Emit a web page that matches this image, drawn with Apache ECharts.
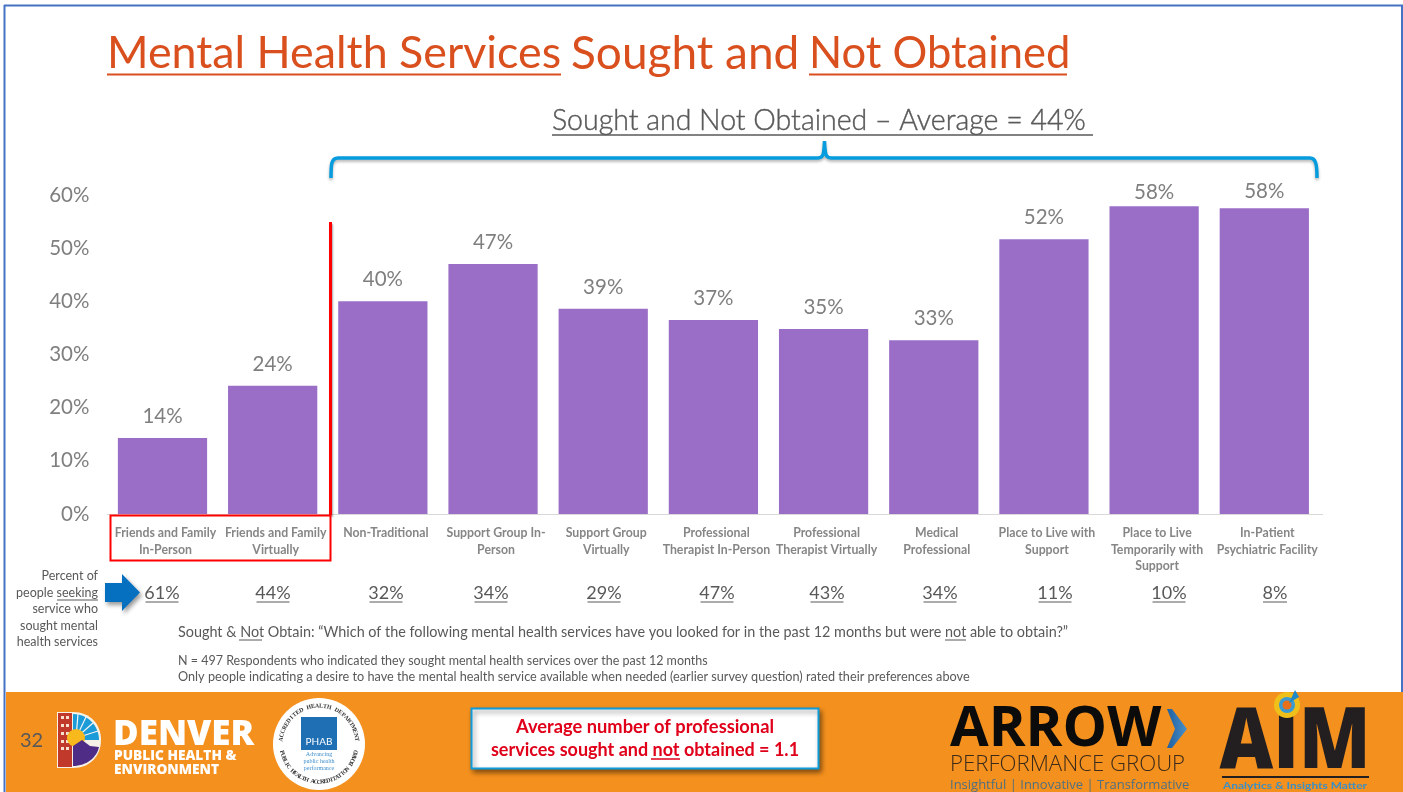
<!DOCTYPE html>
<html><head><meta charset="utf-8">
<style>html,body{margin:0;padding:0;background:#fff}#c{width:1403px;height:792px}</style>
<script src="https://cdn.jsdelivr.net/npm/echarts@6/dist/echarts.min.js"></script>
</head><body><div id="c"></div>
<script>
const categories = ['Friends and Family\nIn-Person','Friends and Family\nVirtually','Non-Traditional','Support Group In-\nPerson','Support Group\nVirtually','Professional\nTherapist In-Person','Professional\nTherapist Virtually','Medical\nProfessional','Place to Live with\nSupport','Place to Live\nTemporarily with\nSupport','In-Patient\nPsychiatric Facility'];
const soughtNotObtained = [14.3,24.1,40,47,38.6,36.5,34.8,32.7,51.7,57.9,57.5];
const seekingLabels = ['61%','44%','32%','34%','29%','47%','43%','34%','11%','10%','8%'];
const seekingX = [162,273,386,491,604,717,827,940,1055,1169,1275];
const yTicks = [0,10,20,30,40,50,60];

const F='Lato, "Open Sans", sans-serif';
const OS='"Open Sans",sans-serif';
const SER='"Liberation Serif",serif';
let pathN=0;
const pth=(d,style,z)=>{const name='p'+(pathN++);echarts.graphic.registerShape(name,echarts.graphic.extendPath(d,{}));return {type:name,silent:true,z:z||20,style};};
const txt=(x,y,s,size,color,o={})=>({type:'text',x,y,scaleX:o.sx||1,silent:true,z:o.z||20,style:{text:s,fontSize:size,fill:color,fontFamily:o.ff||F,fontWeight:o.w||'normal',align:o.a||'left',verticalAlign:'middle',stroke:o.st?color:undefined,lineWidth:o.st||0}});
const ln=(x1,y1,x2,y2,color,w,o={})=>({type:'line',silent:true,z:o.z||20,shape:{x1,y1,x2,y2},style:{stroke:color,lineWidth:w,shadowBlur:o.sb||0,shadowColor:'rgba(0,0,0,.35)',shadowOffsetY:o.sb?2:0,shadowOffsetX:o.sb?1:0}});
const rect=(x,y,w,h,fill,o={})=>({type:'rect',silent:true,z:o.z||20,shape:{x,y,width:w,height:h,r:o.r||0},style:{fill,stroke:o.stroke,lineWidth:o.lw||0,shadowBlur:o.sb||0,shadowColor:'rgba(0,0,0,.45)',shadowOffsetY:o.sb?3:0,shadowOffsetX:o.sb?2:0}});
const poly=(pts,fill,o={})=>({type:'polygon',silent:true,z:o.z||20,shape:{points:pts},style:{fill,shadowBlur:o.sb||0,shadowColor:'rgba(0,0,0,.4)',shadowOffsetY:o.sb?3:0,shadowOffsetX:o.sb?2:0}});
const circ=(cx,cy,r,fill,o={})=>({type:'circle',silent:true,z:o.z||20,shape:{cx,cy,r},style:{fill,stroke:o.stroke,lineWidth:o.lw||0}});

const G=[];
// slide frame and footer
G.push(ln(4.5,5,4.5,792,'#4472C4',2),ln(4,5.5,1403,5.5,'#4472C4',2),ln(1402,5,1402,692,'#4472C4',2));
G.push(rect(6,692,1397,100,'#F4901E'));
// title
G.push(txt(107,54,'Mental Health Services',44.8,'#D9501E'));
G.push(txt(571,54,'Sought and',46,'#D9501E'));
G.push(txt(809,54,'Not Obtained',43.5,'#D9501E'));
G.push(ln(107,74.5,561,74.5,'#D9501E',2),ln(809,74.5,1067,74.5,'#D9501E',2));
G.push(txt(552,121,'Sought and Not Obtained – Average = 44% ',28.5,'#595959',{w:300,st:0.4}));
G.push(ln(552,135,1093,135,'#595959',1.5));
// bracket
G.push(pth('M331 178 C331 165 331 158 338 158 L818 158 C823 158 824 155 824.5 141 C825 155 826 158 831 158 L1310 158 C1316 158 1317 165 1317 178',{fill:'none',stroke:'#069CDE',lineWidth:3.5,shadowBlur:3,shadowColor:'rgba(0,0,0,.3)',shadowOffsetY:2}));
// red markers
G.push(ln(330.5,222,330.5,515,'#FF0000',3,{sb:2}));
G.push(rect(110.5,515.5,220,45,'rgba(0,0,0,0)',{stroke:'#FF0000',lw:2}));
G.push(ln(1319,514.5,1323,514.5,'#D9D9D9',1));
// seeking row
G.push(poly([[105,583],[122,583],[122,574],[140,592.5],[122,611],[122,602],[105,602]],'#0670C0',{sb:4}));
['Percent of','people seeking','service who','sought mental','health services'].forEach((s,i)=>G.push(txt(98,576+i*16.6,s,12.5,'#595959',{a:'right'})));
G.push(ln(57,600,98,600,'#595959',1));
seekingLabels.forEach((s,i)=>{G.push(txt(seekingX[i],593,s,18,'#595959',{a:'center'}));const w=s.length>2?33:24;G.push(ln(seekingX[i]-w/2,602,seekingX[i]+w/2,602,'#595959',1));});
// notes
G.push(txt(178,632,'Sought & Not Obtain: “Which of the following mental health services have you looked for in the past 12 months but were not able to obtain?”',14.4,'#595959'));
G.push(ln(239,640,262,640,'#595959',1),ln(945,640,966,640,'#595959',1));
G.push(txt(178,661,'N = 497 Respondents who indicated they sought mental health services over the past 12 months',12.5,'#595959'));
G.push(txt(178,677,'Only people indicating a desire to have the mental health service available when needed (earlier survey question) rated their preferences above',12.7,'#595959'));
// footer: page no + Denver
G.push(txt(20,741,'32',20,'#595959'));
G.push(pth('M57 712 L57 768 L73 768 C90 768 101 756 101 740 C101 724 90 712 73 712 Z',{fill:'#F7F2E8'}));
G.push(rect(58,713,14,54,'#C0392B'));
[[61,716],[66,716],[61,724],[66,724],[61,732],[66,732],[61,740],[66,740],[61,747],[66,747]].forEach(p=>G.push(rect(p[0],p[1],3,3,'#F8E0D0')));
G.push(pth('M73 714 C88 714 99 726 99 740 L73 740 Z',{fill:'#1B9BD7'}));
[[78,714],[86,717],[93,723],[98,731]].forEach(p=>G.push(ln(76,738,p[0],p[1],'#F4F4F4',1.2)));
G.push(circ(76,738,9,'#F9B81B'));
G.push(pth('M73 746 L82 740 L90 746 L99 747 C97 757 87 766 73 766 Z',{fill:'#4F2D87'},21));
G.push(txt(113,735,'DENVER',35,'#FFFFFF',{w:800,ff:OS}));
G.push(txt(114,756,'PUBLIC HEALTH &',13.7,'#FFFFFF',{w:800,ff:OS}));
G.push(txt(114,770,'ENVIRONMENT',13.7,'#FFFFFF',{w:800,ff:OS}));
// PHAB seal
G.push(circ(319,744,46,'#FFFFFF'));
G.push(rect(301,717,36,33,'#1F6FB5'));
G.push(txt(319,742,'PHAB',10,'#FFFFFF',{a:'center'}));
G.push(txt(319,754,'Advancing',6,'#3F8FCF',{a:'center',ff:SER}));
G.push(txt(319,761,'public health',6,'#3F8FCF',{a:'center',ff:SER}));
G.push(txt(319,768,'performance',6,'#3F8FCF',{a:'center',ff:SER}));
const seal='ACCREDITED HEALTH DEPARTMENT';
[...seal].forEach((c,i)=>{const a=-1.45+i*2.9/(seal.length-1);G.push({type:'text',silent:true,z:21,x:319+38*Math.sin(a),y:744-38*Math.cos(a),rotation:-a,style:{text:c,fontSize:6,fontWeight:'bold',fill:'#333',align:'center',verticalAlign:'middle',fontFamily:SER}});});
const seal2='PUBLIC HEALTH ACCREDITATION BOARD';
[...seal2].forEach((c,i)=>{const a=1.35-i*2.7/(seal2.length-1);G.push({type:'text',silent:true,z:21,x:319-38*Math.sin(a),y:744+38*Math.cos(a),rotation:-a,style:{text:c,fontSize:6,fontWeight:'bold',fill:'#333',align:'center',verticalAlign:'middle',fontFamily:SER}});});
// callout
G.push(rect(471.5,708.5,347,60,'#FFFFFF',{stroke:'#0D9BDC',lw:2,sb:5}));
G.push(txt(645,727,'Average number of professional',18.3,'#E0001A',{w:'bold',a:'center'}));
G.push(txt(645,750,'services sought and not obtained = 1.1',18,'#E0001A',{w:'bold',a:'center'}));
G.push(ln(651,759,680,759,'#E0001A',1.5));
// ARROW
G.push(txt(950,730,'ARROW',56,'#0B0B0B',{w:'bold',ff:OS}));
G.push(poly([[1167,709],[1172,709],[1187,729],[1172,748],[1167,748],[1175,729]],new echarts.graphic.LinearGradient(0,0,1,0,[{offset:0,color:'#1F5F9F'},{offset:1,color:'#4A90C8'}])));
G.push(txt(950,765,'PERFORMANCE GROUP',22.2,'#3A2A1A',{w:300,ff:OS}));
G.push(txt(950,785,'Insightful | Innovative | Transformative',13,'#4F7080',{ff:OS}));
// AIM
G.push(txt(1295,743.5,'AIM',85,'#231F20',{w:800,a:'center',ff:OS,sx:0.87}));
G.push(circ(1287,705,13,'#F0C01A'));G.push(circ(1287,705,8,'#3B9AD0'));G.push(circ(1287,705,4.5,'#E8701A'));
G.push(poly([[1289,703],[1295,690],[1299,697]],'#1E88C8'));
G.push(rect(1222,776,147,2,'#231F20'));
G.push(txt(1295,786,'Analytics & Insights Matter',9,'#3B8FC4',{a:'center',w:'bold',sx:1.33}));

const chart=echarts.init(document.getElementById('c'),null,{renderer:'canvas'});
chart.setOption({animation:false,
 grid:{left:107.4,right:83.6,top:195,height:319},
 xAxis:{type:'category',data:categories,axisTick:{show:false},axisLine:{lineStyle:{color:'#D9D9D9',width:1}},
  axisLabel:{interval:0,margin:11,lineHeight:16.5,fontSize:12.3,fontWeight:'bold',color:'#868686',fontFamily:F,padding:[0,0,0,6]}},
 yAxis:{type:'value',min:0,max:60,interval:10,axisLine:{show:false},axisTick:{show:false},splitLine:{show:false},
  axisLabel:{margin:18,fontSize:20.5,color:'#7F7F7F',fontFamily:F,formatter:v=>yTicks.includes(v)?v+'%':''}},
 series:[{type:'bar',data:soughtNotObtained.map((v,i)=>i===9?{value:v,label:{distance:3}}:i===10?{value:v,label:{distance:6}}:v),barWidth:'81%',itemStyle:{color:'#9A6EC7'},
  label:{show:true,position:'top',distance:11,fontSize:20.5,color:'#7F7F7F',fontFamily:F,formatter:p=>Math.round(p.value)+'%'}}],
 graphic:G});
</script></body></html>
